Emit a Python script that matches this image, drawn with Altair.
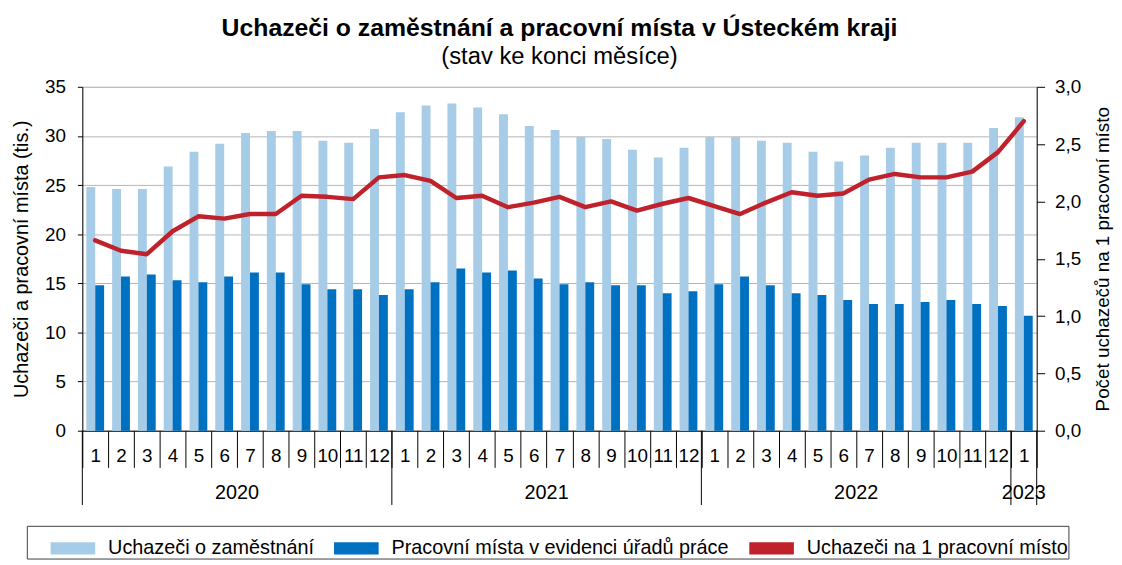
import altair as alt
import pandas as pd

FONT = "Liberation Sans, Arial, sans-serif"

mesic = [1, 2, 3, 4, 5, 6, 7, 8, 9, 10, 11, 12,
         1, 2, 3, 4, 5, 6, 7, 8, 9, 10, 11, 12,
         1, 2, 3, 4, 5, 6, 7, 8, 9, 10, 11, 12,
         1]
rok = [2020] * 12 + [2021] * 12 + [2022] * 12 + [2023]

uchazeci = [24.8, 24.6, 24.6, 26.9, 28.4, 29.2, 30.3, 30.5, 30.5, 29.5, 29.3, 30.7,
            32.4, 33.1, 33.3, 32.9, 32.2, 31.0, 30.6, 29.9, 29.7, 28.6, 27.8, 28.8,
            29.9, 29.9, 29.5, 29.3, 28.4, 27.4, 28.0, 28.8, 29.3, 29.3, 29.3, 30.8, 31.9]
mista = [14.8, 15.7, 15.9, 15.3, 15.1, 15.7, 16.1, 16.1, 14.9, 14.4, 14.4, 13.8,
         14.4, 15.1, 16.5, 16.1, 16.3, 15.5, 14.9, 15.1, 14.8, 14.8, 14.0, 14.2,
         14.9, 15.7, 14.8, 14.0, 13.8, 13.3, 12.9, 12.9, 13.1, 13.3, 12.9, 12.7, 11.7]
pomer = [1.66, 1.57, 1.54, 1.74, 1.87, 1.85, 1.89, 1.89, 2.05, 2.04, 2.02, 2.21,
         2.23, 2.18, 2.03, 2.05, 1.95, 1.99, 2.04, 1.95, 2.00, 1.92, 1.98, 2.03,
         1.96, 1.89, 1.99, 2.08, 2.05, 2.07, 2.19, 2.24, 2.21, 2.21, 2.26, 2.43, 2.70]

S_U = "Uchazeči o zaměstnání"
S_M = "Pracovní místa v evidenci úřadů práce"
S_P = "Uchazeči na 1 pracovní místo"
series = [S_U, S_M, S_P]
colors = ["#A6CCE8", "#0070C0", "#C0222B"]

roky_nazvy = ["2020", "2021", "2022"]
roky_stred = [5, 17, 29]
roky_zacatek = [0, 12, 24, 36]

W, H = 963, 347

idx = list(range(len(mesic)))
df = pd.DataFrame({"idx": idx, "mesic": mesic, "rok": rok,
                   "uchazeci": uchazeci, "mista": mista, "pomer": pomer})
long = pd.concat([
    pd.DataFrame({"idx": idx, "serie": S_U, "hodnota": uchazeci}),
    pd.DataFrame({"idx": idx, "serie": S_M, "hodnota": mista}),
])

month_expr = "[" + ",".join(f"'{m}'" for m in mesic) + "][datum.value]"

color_scale = alt.Scale(domain=series, range=colors)

RECT = "M-1,-0.27H1V0.27H-1Z"

legend = alt.Legend(
    title="\u00a0", titleOrient="left", titleFontSize=2, titlePadding=24,
    orient="none", legendX=-56, legendY=443, direction="horizontal",
    symbolType=RECT, symbolSize=2025, symbolStrokeWidth=0,
    labelFont=FONT, labelFontSize=20, labelColor="#000000", labelOffset=13,
    columnPadding=20, padding=0, strokeColor="#404040", fillColor="#ffffff",
    labelLimit=500,
)

x_main = alt.X(
    "idx:O",
    scale=alt.Scale(paddingInner=0, paddingOuter=0),
    sort=None,
    axis=alt.Axis(
        title=None, labelExpr=month_expr, labelAngle=0, tickBand="extent",
        tickSize=37, tickColor="#000000", domainColor="#000000",
        labelPadding=-21, labelFont=FONT, labelFontSize=19, labelColor="#000000",
        labelBaseline="top", grid=False,
    ),
)

bars = alt.Chart(long).mark_bar().encode(
    x=x_main,
    xOffset=alt.XOffset("serie:N", sort=[S_U, S_M],
                        scale=alt.Scale(domain=[S_U, S_M], paddingOuter=0.45, paddingInner=0)),
    y=alt.Y("hodnota:Q",
            scale=alt.Scale(domain=[0, 35]),
            axis=alt.Axis(
                title="Uchazeči a pracovní místa (tis.)", values=[0, 5, 10, 15, 20, 25, 30, 35],
                grid=True, gridColor="#B4B4B4", tickSize=5, tickColor="#000000",
                domainColor="#000000", labelFont=FONT, labelFontSize=19, labelColor="#000000",
                labelPadding=12, titleFont=FONT, titleFontSize=20, titleFontWeight="normal",
                titleColor="#000000", titlePadding=13,
            )),
    color=alt.Color("serie:N", scale=color_scale, legend=legend),
)

line = alt.Chart(df).mark_line(strokeWidth=4.5, strokeJoin="round", strokeCap="round").encode(
    x=alt.X("idx:O", sort=None),
    y=alt.Y("pomer:Q",
            scale=alt.Scale(domain=[0, 3]),
            axis=alt.Axis(
                orient="right", title="Počet uchazečů na 1 pracovní místo",
                values=[0, 0.5, 1, 1.5, 2, 2.5, 3],
                labelExpr="replace(format(datum.value, '.1f'), '.', ',')",
                grid=False, tickSize=8, tickColor="#000000", domainColor="#000000",
                labelFont=FONT, labelFontSize=19, labelColor="#000000", labelPadding=10,
                titleFont=FONT, titleFontSize=19, titleFontWeight="normal",
                titleColor="#000000", titleAngle=270, titleBaseline="top", titlePadding=13,
            )),
    color=alt.datum(S_P),
)

sep_df = pd.DataFrame({"idx": roky_zacatek})
year_sep = alt.Chart(sep_df).mark_rule(color="#000000", strokeWidth=1).encode(
    x=alt.X("idx:O", bandPosition=0, sort=None),
    y=alt.value(H),
    y2=alt.value(H + 75),
)
end_sep = alt.Chart(pd.DataFrame({"idx": [idx[-1]]})).mark_rule(color="#000000", strokeWidth=1).encode(
    x=alt.X("idx:O", bandPosition=1, sort=None),
    y=alt.value(H),
    y2=alt.value(H + 75),
)

yr_df = pd.DataFrame({"idx": roky_stred, "txt": roky_nazvy})
year_txt = alt.Chart(yr_df).mark_text(font=FONT, fontSize=20, color="#000000", baseline="middle").encode(
    x=alt.X("idx:O", bandPosition=1, sort=None),
    y=alt.value(H + 63),
    text="txt:N",
)
last_txt = alt.Chart(pd.DataFrame({"idx": [idx[-1]], "txt": ["2023"]})).mark_text(
    font=FONT, fontSize=20, color="#000000", baseline="middle").encode(
    x=alt.X("idx:O", bandPosition=0.5, sort=None),
    y=alt.value(H + 63),
    text="txt:N",
)

chart = alt.layer(bars, line, year_sep, end_sep, year_txt, last_txt).resolve_scale(
    y="independent"
).properties(
    width=W, height=H,
    autosize=alt.AutoSizeParams(type="none"),
    padding={"left": 75, "top": 77, "right": 78, "bottom": 133},
    title=alt.TitleParams(
        text="Uchazeči o zaměstnání a pracovní místa v Ústeckém kraji",
        subtitle="(stav ke konci měsíce)",
        font=FONT, fontSize=25, fontWeight="bold", color="#000000",
        subtitleFont=FONT, subtitleFontSize=24, subtitleColor="#000000",
        subtitlePadding=4, anchor="middle", offset=9,
    ),
).configure_view(stroke="#808080").configure(background="#ffffff")

chart.save("out.html", embed_options={"renderer": "svg", "actions": False})
